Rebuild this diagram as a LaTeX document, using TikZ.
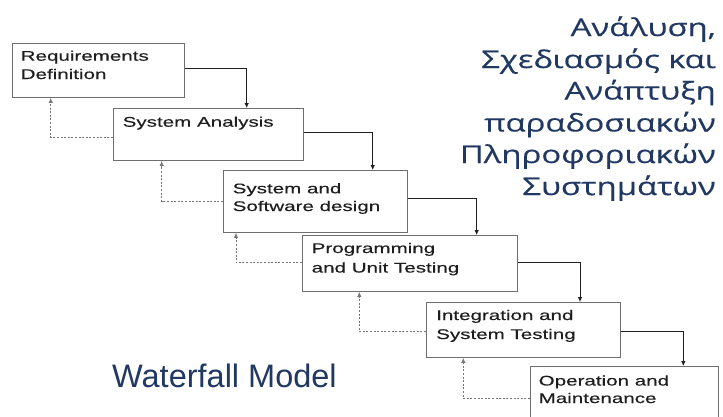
\documentclass[tikz,border=0pt]{standalone}
\usepackage{fontspec}
\setmainfont{Liberation Sans}
\newfontfamily\boxfont[FakeStretch=1.47,FakeBold=0.25]{Liberation Sans}
\newfontfamily\titlefont[FakeStretch=1.34,FakeBold=0.4]{Open Sans}
\usetikzlibrary{arrows.meta}
\definecolor{navy}{RGB}{33,56,98}
\definecolor{framegray}{RGB}{110,110,110}
\definecolor{inkgray}{RGB}{30,30,30}
\definecolor{fbgray}{RGB}{120,120,120}
\tikzset{
  stagebox/.style={draw=framegray, line width=0.9pt, rectangle, anchor=north west, inner sep=0pt},
  stagetext/.style={anchor=base west, inner sep=0pt, text=inkgray, font=\boxfont\fontsize{14}{17}\selectfont},
  titleline/.style={anchor=base east, inner sep=0pt, text=navy, font=\titlefont\fontsize{24.5}{32}\selectfont},
  flow/.style={draw=inkgray, line width=0.8pt, -{Latex[length=5pt,width=4.5pt]}},
  feedback/.style={draw=fbgray, line width=0.8pt, dash pattern=on 2pt off 1.6pt, -{Latex[length=5pt,width=4.5pt]}},
}
\begin{document}
\begin{tikzpicture}[x=1pt,y=-1pt]
\useasboundingbox[fill=white] (0,0) rectangle (723,416);
\clip (0,0) rectangle (723,416);

% stage boxes
\node[stagebox, minimum width=172pt, minimum height=54pt] (b1) at (12,43) {};
\node[stagebox, minimum width=190pt, minimum height=52pt] (b2) at (113,108) {};
\node[stagebox, minimum width=184pt, minimum height=62pt] (b3) at (223,170) {};
\node[stagebox, minimum width=215pt, minimum height=56pt] (b4) at (302,235) {};
\node[stagebox, minimum width=194pt, minimum height=55pt] (b5) at (426,302) {};
\node[stagebox, minimum width=188pt, minimum height=70pt] (b6) at (530,366) {};

% stage labels
\node[stagetext] (t1a) at (20.5,60.7) {Requirements};
\node[stagetext] (t1b) at (20.5,79) {Definition};
\node[stagetext] (t2a) at (122.5,126.7) {System Analysis};
\node[stagetext] (t3a) at (232.5,193.3) {System and};
\node[stagetext] (t3b) at (232.5,211) {Software design};
\node[stagetext] (t4a) at (311.5,253) {Programming};
\node[stagetext] (t4b) at (311.5,272.5) {and Unit Testing};
\node[stagetext] (t5a) at (436,320) {Integration and};
\node[stagetext] (t5b) at (436,339) {System Testing};
\node[stagetext] (t6a) at (538.5,385.5) {Operation and};
\node[stagetext] (t6b) at (538.5,403) {Maintenance};

% turning points of the connectors
\coordinate (f1) at (246.7,68.3);
\coordinate (f2) at (372.7,132.7);
\coordinate (f3) at (476.7,198.3);
\coordinate (f4) at (580,262.7);
\coordinate (f5) at (683.3,331.7);
\coordinate (r1) at (50.7,137.3);
\coordinate (r2) at (161.7,201.7);
\coordinate (r3) at (236,262.7);
\coordinate (r4) at (359.3,331.7);
\coordinate (r5) at (463.3,398.3);

% forward flow
\draw[flow] (b1.east |- f1) -- (f1) -- (f1 |- b2.north);
\draw[flow] (b2.east |- f2) -- (f2) -- (f2 |- b3.north);
\draw[flow] (b3.east |- f3) -- (f3) -- (f3 |- b4.north);
\draw[flow] (b4.east |- f4) -- (f4) -- (f4 |- b5.north);
\draw[flow] (b5.east |- f5) -- (f5) -- (f5 |- b6.north);

% feedback loops
\draw[feedback] (b2.west |- r1) -- (r1) -- (r1 |- b1.south);
\draw[feedback] (b3.west |- r2) -- (r2) -- (r2 |- b2.south);
\draw[feedback] (b4.west |- r3) -- (r3) -- (r3 |- b3.south);
\draw[feedback] (b5.west |- r4) -- (r4) -- (r4 |- b4.south);
\draw[feedback] (b6.west |- r5) -- (r5) -- (r5 |- b5.south);

% titles
\node[anchor=base west, inner sep=0pt, text=navy, font=\fontsize{32.5}{36}\selectfont] (wm) at (112,387.5) {Waterfall Model};
\node[titleline] (g1) at (716,36) {Ανάλυση,};
\node[titleline] (g2) at (716,68) {Σχεδιασμός και};
\node[titleline] (g3) at (716,99.5) {Ανάπτυξη};
\node[titleline] (g4) at (716,131.5) {παραδοσιακών};
\node[titleline] (g5) at (716,163) {Πληροφοριακών};
\node[titleline] (g6) at (716,195) {Συστημάτων};
\end{tikzpicture}
\end{document}
